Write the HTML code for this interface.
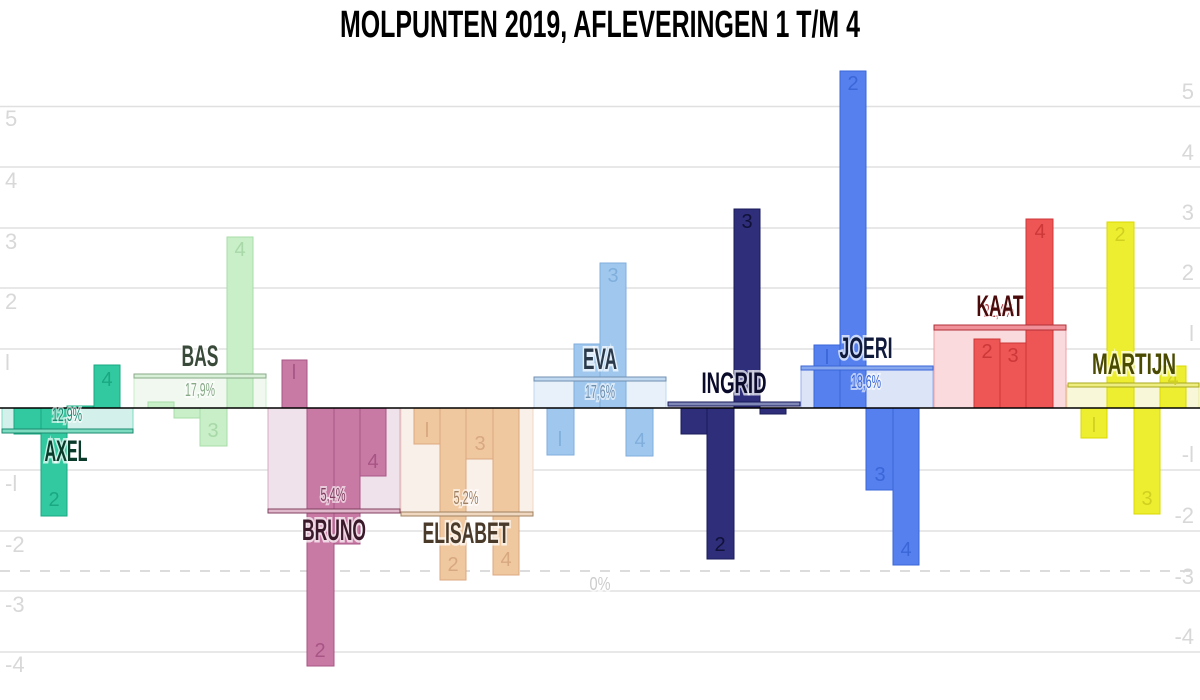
<!DOCTYPE html>
<html><head><meta charset="utf-8"><style>
html,body{margin:0;padding:0;background:#fff;}
svg{display:block;}
text{font-family:"Liberation Sans Narrow","Liberation Sans",sans-serif;}
.ax{fill:#d8d8d8;font-size:22px;}
.nm{font-size:30px;font-weight:bold;stroke:#fff;stroke-width:5px;stroke-opacity:0.7;paint-order:stroke;}
.pc{font-size:18px;paint-order:stroke;stroke:#fff;stroke-width:4px;stroke-opacity:0.6;}
.bn{font-size:20px;}
</style></head><body>
<svg width="1200" height="700" viewBox="0 0 1200 700">
<text x="600" y="37" text-anchor="middle" font-size="38" font-weight="bold" textLength="520" lengthAdjust="spacingAndGlyphs" fill="#000">MOLPUNTEN 2019, AFLEVERINGEN 1 T/M 4</text>
<g stroke="#e0e0e0" stroke-width="1.5">
<line x1="0" x2="1200" y1="106.5" y2="106.5"/><line x1="0" x2="1200" y1="167" y2="167"/>
<line x1="0" x2="1200" y1="228" y2="228"/><line x1="0" x2="1200" y1="288" y2="288"/>
<line x1="0" x2="1200" y1="349" y2="349"/><line x1="0" x2="1200" y1="470" y2="470"/>
<line x1="0" x2="1200" y1="531" y2="531"/><line x1="0" x2="1200" y1="591" y2="591"/>
<line x1="0" x2="1200" y1="652" y2="652"/>
</g>
<line x1="0" x2="1200" y1="571" y2="571" stroke="#d0d0d0" stroke-width="1.5" stroke-dasharray="10,10"/>
<g class="ax">
<text x="5" y="126">5</text><text x="5" y="188">4</text><text x="5" y="249">3</text><text x="5" y="309">2</text><text x="5" y="370">l</text><text x="5" y="429">0</text><text x="5" y="491">-l</text><text x="5" y="552">-2</text><text x="5" y="612">-3</text><text x="5" y="672">-4</text>
</g>
<g class="ax" text-anchor="end">
<text x="1194" y="99">5</text><text x="1194" y="160">4</text><text x="1194" y="220">3</text><text x="1194" y="280">2</text><text x="1194" y="341">l</text><text x="1194" y="402">0</text><text x="1194" y="462">-l</text><text x="1194" y="523">-2</text><text x="1194" y="584">-3</text><text x="1194" y="644">-4</text>
</g>
<text x="600" y="590" text-anchor="middle" class="pc" fill="#ccc" textLength="21" lengthAdjust="spacingAndGlyphs">0%</text>

<!-- AXEL -->
<rect x="2" y="408" width="131" height="22" fill="#d4f0ea" stroke="#7ddcc0"/>
<g fill="#33c9a0" stroke="#1aa882"><rect x="14" y="408" width="27" height="26"/><rect x="41" y="408" width="26" height="108"/><rect x="67" y="406" width="26" height="2"/><rect x="94" y="365" width="26" height="43"/></g>
<rect x="2" y="429" width="131" height="4" fill="#7ddcc0" stroke="#1a8a70"/>
<g class="bn" fill="#1aa882" text-anchor="middle"><text x="54" y="506">2</text><text x="107" y="386">4</text></g>

<!-- BAS -->
<rect x="134" y="376" width="132" height="32" fill="#f0f8f0" stroke="#c8efc8"/>
<g fill="#c8efc8" stroke="#a8dca8"><rect x="148" y="402" width="26" height="6"/><rect x="174" y="408" width="26" height="10"/><rect x="200" y="408" width="27" height="38"/><rect x="227" y="237" width="26" height="171"/></g>
<rect x="134" y="374" width="132" height="4" fill="#d8f0d8" stroke="#88aa88"/>
<g class="bn" fill="#a8d8a8" text-anchor="middle"><text x="213" y="437">3</text><text x="240" y="256">4</text></g>

<!-- BRUNO -->
<rect x="268" y="408" width="132" height="102" fill="#f0e2ea" stroke="#d8a8c4"/>
<g fill="#c87aa5" stroke="#a85585"><rect x="282" y="360" width="25" height="48"/><rect x="307" y="408" width="27" height="258"/><rect x="334" y="408" width="26" height="136"/><rect x="360" y="408" width="26" height="68"/></g>
<rect x="268" y="509" width="132" height="4" fill="#e0b8cc" stroke="#804060"/>
<g class="bn" fill="#a85585" text-anchor="middle"><text x="294" y="379">l</text><text x="320" y="657">2</text><text x="373" y="468">4</text></g>

<!-- ELISABET -->
<rect x="401" y="408" width="132" height="105" fill="#faf0ea" stroke="#f0d8c0"/>
<g fill="#f0c8a0" stroke="#dca880"><rect x="414" y="408" width="26" height="36"/><rect x="440" y="408" width="26" height="172"/><rect x="466" y="408" width="27" height="51"/><rect x="493" y="408" width="26" height="167"/></g>
<rect x="401" y="512" width="132" height="4" fill="#f0d8c0" stroke="#a08060"/>
<g class="bn" fill="#d8a880" text-anchor="middle"><text x="427" y="437">l</text><text x="453" y="571">2</text><text x="480" y="450">3</text><text x="506" y="566">4</text></g>

<!-- EVA -->
<rect x="534" y="378" width="132" height="30" fill="#e8f0fa" stroke="#c0d8f0"/>
<g fill="#a0c8ee" stroke="#80aedc"><rect x="547" y="408" width="27" height="47"/><rect x="574" y="344" width="26" height="64"/><rect x="600" y="263" width="26" height="145"/><rect x="626" y="408" width="27" height="48"/></g>
<rect x="534" y="377" width="132" height="4" fill="#c0d8f0" stroke="#7090b0"/>
<g class="bn" fill="#80aedc" text-anchor="middle"><text x="560" y="446">l</text><text x="613" y="282">3</text><text x="640" y="447">4</text></g>

<!-- INGRID -->
<rect x="668" y="404" width="132" height="4" fill="#e0e0f0"/>
<g fill="#2e2e7a" stroke="#1a1a5a"><rect x="681" y="408" width="26" height="26"/><rect x="707" y="408" width="27" height="151"/><rect x="734" y="209" width="26" height="199"/><rect x="760" y="408" width="26" height="6"/></g>
<rect x="668" y="402" width="132" height="4" fill="#8088b8" stroke="#1a1a5a"/>
<g class="bn" fill="#11113a" text-anchor="middle"><text x="720" y="551">2</text><text x="747" y="228">3</text></g>

<!-- JOERI -->
<rect x="801" y="368" width="132" height="40" fill="#dce4f8" stroke="#98b0ee"/>
<g fill="#5580ee" stroke="#3a66d8"><rect x="814" y="345" width="26" height="63"/><rect x="840" y="71" width="26" height="337"/><rect x="866" y="408" width="27" height="82"/><rect x="893" y="408" width="26" height="157"/></g>
<rect x="801" y="366" width="132" height="4" fill="#88a8ee" stroke="#3a66d8"/>
<g class="bn" fill="#3a66d8" text-anchor="middle"><text x="827" y="364">l</text><text x="853" y="90">2</text><text x="880" y="481">3</text><text x="906" y="556">4</text></g>

<!-- KAAT -->
<rect x="934" y="328" width="132" height="80" fill="#fadadc" stroke="#f0a0a4"/>
<g fill="#ee5555" stroke="#cc3838"><rect x="974" y="339" width="26" height="69"/><rect x="1000" y="343" width="26" height="65"/><rect x="1026" y="219" width="27" height="189"/></g>
<rect x="934" y="325" width="132" height="5" fill="#f09098" stroke="#b03038"/>
<g class="bn" fill="#cc3838" text-anchor="middle"><text x="987" y="358">2</text><text x="1013" y="362">3</text><text x="1040" y="238">4</text></g>

<!-- MARTIJN -->
<rect x="1067" y="385" width="132" height="23" fill="#f8f8d8" stroke="#e8e8a0"/>
<g fill="#eeee30" stroke="#d8d800"><rect x="1081" y="408" width="26" height="30"/><rect x="1107" y="222" width="27" height="186"/><rect x="1134" y="408" width="26" height="106"/><rect x="1160" y="366" width="26" height="42"/></g>
<rect x="1068" y="383" width="131" height="4" fill="#eeee80" stroke="#a8a820"/>
<g class="bn" fill="#d0d020" text-anchor="middle"><text x="1094" y="432">l</text><text x="1120" y="241">2</text><text x="1147" y="505">3</text><text x="1173" y="385">4</text></g>

<line x1="0" x2="1200" y1="408" y2="408" stroke="#000" stroke-width="1.5"/>

<!-- percents -->
<text class="pc" x="67" y="421" text-anchor="middle" fill="#1a8a70" textLength="30" lengthAdjust="spacingAndGlyphs">12,9%</text>
<text class="pc" x="200" y="396" text-anchor="middle" fill="#88aa88" textLength="30" lengthAdjust="spacingAndGlyphs">17,9%</text>
<text class="pc" x="333" y="501" text-anchor="middle" fill="#804060" textLength="25" lengthAdjust="spacingAndGlyphs">5,4%</text>
<text class="pc" x="466" y="504" text-anchor="middle" fill="#a08060" textLength="25" lengthAdjust="spacingAndGlyphs">5,2%</text>
<text class="pc" x="600" y="398" text-anchor="middle" fill="#7090b0" textLength="30" lengthAdjust="spacingAndGlyphs">17,6%</text>
<text class="pc" x="866" y="388" text-anchor="middle" fill="#3a66d8" textLength="30" lengthAdjust="spacingAndGlyphs">18,6%</text>
<text class="pc" x="999" y="317" text-anchor="middle" fill="#b03038" textLength="31" lengthAdjust="spacingAndGlyphs">22,4%</text>

<!-- names -->
<text class="nm" x="66" y="461" text-anchor="middle" fill="#0a3a2a" textLength="43" lengthAdjust="spacingAndGlyphs">AXEL</text>
<text class="nm" x="200" y="366" text-anchor="middle" fill="#3a4a3a" textLength="37" lengthAdjust="spacingAndGlyphs">BAS</text>
<text class="nm" x="334" y="540" text-anchor="middle" fill="#3a1a2a" textLength="64" lengthAdjust="spacingAndGlyphs">BRUNO</text>
<text class="nm" x="466" y="543" text-anchor="middle" fill="#4a3a2a" textLength="87" lengthAdjust="spacingAndGlyphs">ELISABET</text>
<text class="nm" x="600" y="369" text-anchor="middle" fill="#2a3a4a" textLength="34" lengthAdjust="spacingAndGlyphs">EVA</text>
<text class="nm" x="734" y="393" text-anchor="middle" fill="#0a0a2a" textLength="65" lengthAdjust="spacingAndGlyphs">INGRID</text>
<text class="nm" x="866" y="358" text-anchor="middle" fill="#101a3a" textLength="53" lengthAdjust="spacingAndGlyphs">JOERI</text>
<text class="nm" x="1000" y="316" text-anchor="middle" fill="#4a0a0a" textLength="47" lengthAdjust="spacingAndGlyphs">KAAT</text>
<text class="nm" x="1134" y="374" text-anchor="middle" fill="#4a4a00" textLength="84" lengthAdjust="spacingAndGlyphs">MARTIJN</text>
</svg>
</body></html>
